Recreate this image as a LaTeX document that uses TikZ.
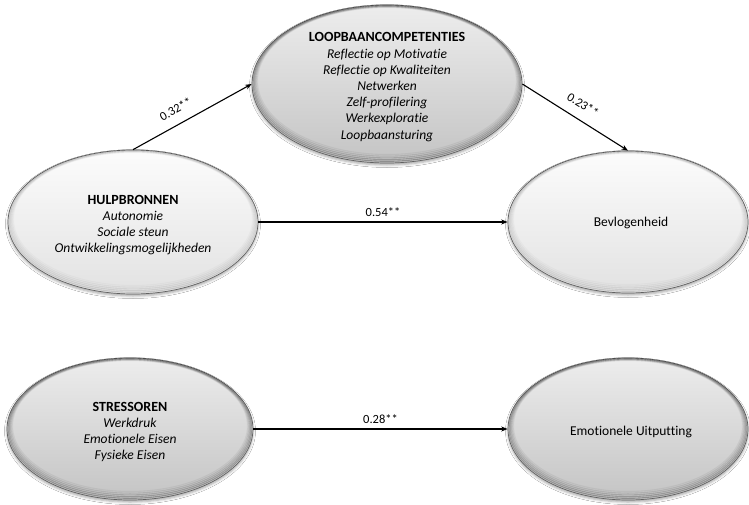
\documentclass[tikz,border=0pt]{standalone}
\usepackage{fontspec}
\setmainfont{Carlito}[Ligatures=NoCommon]
\usetikzlibrary{shapes.geometric,arrows.meta,shadows.blur,calc}

\definecolor{greytop}{HTML}{EDEDED}
\definecolor{greybot}{HTML}{C4C4C4}
\definecolor{palesky}{HTML}{FCFCFC}
\definecolor{palebot}{HTML}{E2E2E2}

\tikzset{
  bubble/.style={ellipse, inner sep=0pt, draw=black!62, line width=0.7pt,
    blur shadow={shadow xshift=0pt, shadow yshift=-2pt,
      shadow blur radius=2.5pt, shadow opacity=35}},
  bodytext/.style={align=center, font=\fontsize{13.5}{16.2}\selectfont, inner sep=0pt},
  link/.style={line width=1.1pt, -{Stealth[length=6.5pt,width=5pt]}},
  coef/.style={font=\fontsize{12.5}{14}\selectfont, inner sep=2pt},
}

% shaded oval with a darker bevelled rim
% #1 name, #2 x, #3 y, #4 x radius, #5 y radius, #6 top colour, #7 bottom colour, #8 rim strength
\newcommand\ovalbubble[8]{%
  \node[bubble, minimum width=#4pt*2, minimum height=#5pt*2,
        top color=#6, bottom color=#7] (#1) at (#2,#3) {};
  \foreach \d in {1,...,5}{%
    \pgfmathsetmacro\op{#8*(6-\d)/18}%
    \draw[black, opacity=\op, line width=1.1pt]
      ($(#1.center)+(0,-0.6*\d)$) ellipse [x radius={#4pt-1.1*\d pt}, y radius={#5pt-1.1*\d pt}];
  }%
}
\newcommand\headline[1]{{\fontsize{14}{16.2}\selectfont\bfseries #1}}

\begin{document}
\begin{tikzpicture}[x=1pt, y=-1pt]
  \fill[white] (0,0) rectangle (749,505);
  \useasboundingbox (0,0) rectangle (749,505);

  % ovals
  \ovalbubble{lc}{387}{84}{135}{79}{greytop}{greybot}{1}
  \ovalbubble{hb}{133}{222}{125}{72}{palesky}{palebot}{0.45}
  \ovalbubble{bv}{628}{222}{120}{71}{palesky}{palebot}{0.45}
  \ovalbubble{st}{130}{429}{123}{71}{greytop}{greybot}{1}
  \ovalbubble{eu}{628}{429}{120}{71}{greytop}{greybot}{1}

  % texts
  \node[bodytext] (lctext) at ($(lc.center)+(0,3)$) {\headline{LOOPBAANCOMPETENTIES}\\
    \textit{Reflectie op Motivatie}\\ \textit{Reflectie op Kwaliteiten}\\
    \textit{Netwerken}\\ \textit{Zelf-profilering}\\ \textit{Werkexploratie}\\
    \textit{Loopbaansturing}};
  \node[bodytext] (hbtext) at ($(hb.center)+(0,3)$) {\headline{HULPBRONNEN}\\
    \textit{Autonomie}\\ \textit{Sociale steun}\\ \textit{Ontwikkelingsmogelijkheden}};
  \node[bodytext] (bvtext) at ($(bv.center)+(3,1)$) {Bevlogenheid};
  \node[bodytext] (sttext) at ($(st.center)+(0,3)$) {\headline{STRESSOREN}\\
    \textit{Werkdruk}\\ \textit{Emotionele Eisen}\\ \textit{Fysieke Eisen}};
  \node[bodytext] (eutext) at ($(eu.center)+(3,3)$) {Emotionele Uitputting};

  % paths with coefficients
  \draw[link] (hb.north) -- node[coef, sloped, above=8pt, pos=0.42] {0.32**} (lc.west);
  \draw[link] (lc.east) -- node[coef, sloped, above=8pt, pos=0.5] {0.23**} (bv.north);
  \draw[link] (hb.east) -- node[coef, above=3pt, pos=0.5] {0.54**} (bv.west);
  \draw[link] (st.east) -- node[coef, above=3pt, pos=0.5] {0.28**} (eu.west);
\end{tikzpicture}
\end{document}
